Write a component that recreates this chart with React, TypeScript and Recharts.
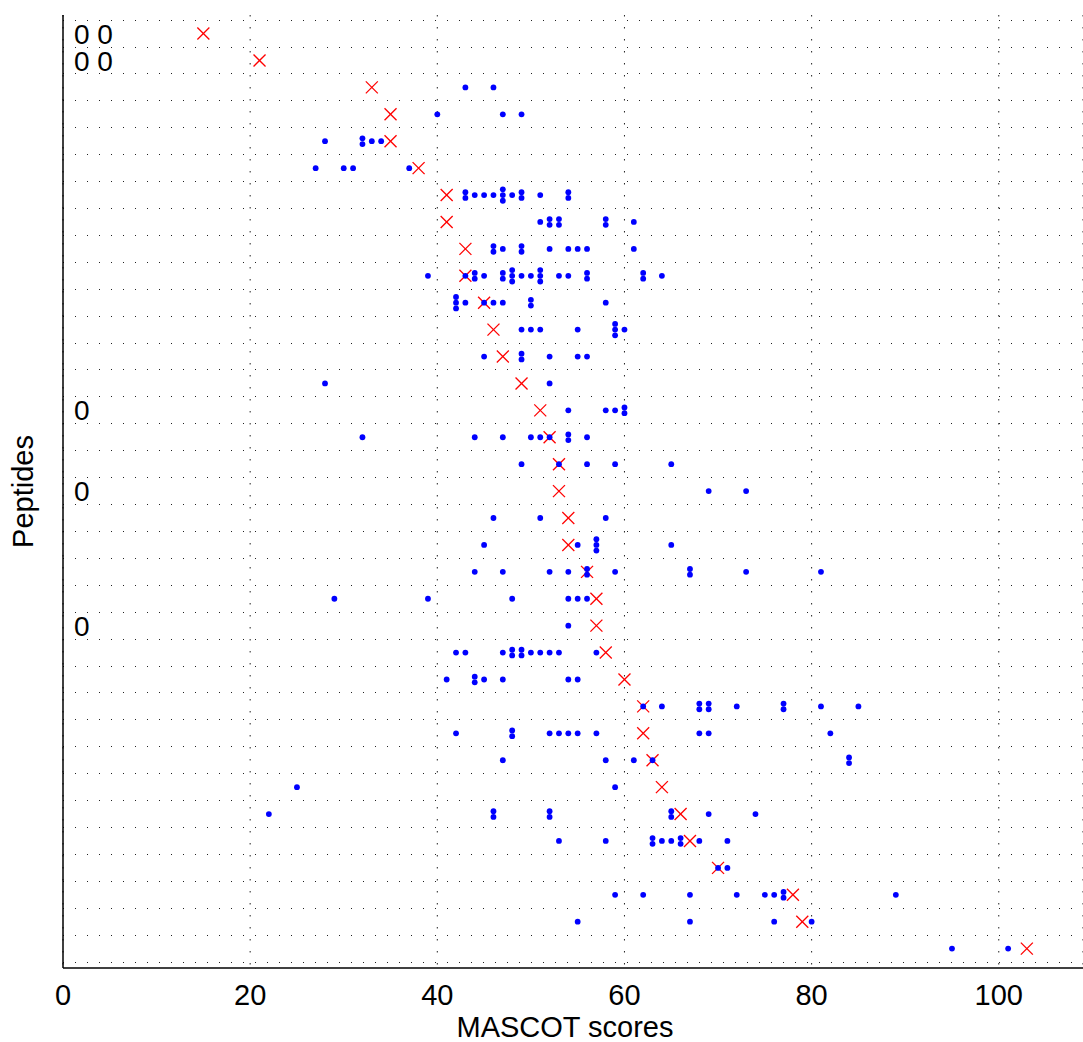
import React from 'react';
import { ScatterChart, Scatter, XAxis, YAxis, ReferenceLine, CartesianGrid } from 'recharts';

// One entry per peptide row (top to bottom): the red cross score
const cutoffScores = [
  15, 21, 33, 35, 35, 38, 41, 41, 43, 43, 45, 46, 47, 49, 51, 52, 53, 53,
  54, 54, 56, 57, 57, 58, 60, 62, 62, 63, 64, 66, 67, 70, 78, 79, 103,
];

// Blue dots per row; repeated values are drawn stacked
const hitScores: number[][] = [
  [],
  [],
  [43, 46],
  [40, 47, 49],
  [28, 32, 32, 33, 34],
  [27, 30, 31, 37],
  [43, 43, 44, 45, 46, 47, 47, 47, 48, 49, 49, 51, 54, 54],
  [51, 52, 52, 53, 53, 58, 58, 61],
  [46, 46, 47, 49, 49, 52, 54, 55, 56, 61],
  [39, 43, 44, 44, 45, 47, 47, 48, 48, 48, 49, 50, 51, 51, 51, 53, 54, 56, 56, 62, 62, 64],
  [42, 42, 42, 43, 45, 46, 47, 50, 50, 58],
  [49, 50, 51, 55, 59, 59, 59, 60],
  [45, 49, 49, 52, 55, 56],
  [28, 52],
  [54, 58, 59, 60, 60],
  [32, 44, 47, 50, 51, 52, 54, 54, 56],
  [49, 53, 56, 59, 65],
  [69, 73],
  [46, 51, 58],
  [45, 55, 57, 57, 57, 65],
  [44, 47, 52, 54, 56, 56, 59, 67, 67, 73, 81],
  [29, 39, 48, 54, 55, 56],
  [54],
  [42, 43, 47, 48, 48, 49, 49, 50, 51, 52, 53, 57],
  [41, 44, 44, 45, 47, 54, 55],
  [62, 64, 68, 68, 69, 69, 72, 77, 77, 81, 85],
  [42, 48, 48, 52, 53, 54, 55, 57, 68, 69, 82],
  [47, 58, 61, 63, 84, 84],
  [25, 59],
  [22, 46, 46, 52, 52, 65, 65, 69, 74],
  [53, 58, 63, 63, 64, 65, 66, 66, 68, 71],
  [70, 71],
  [59, 62, 67, 72, 75, 76, 77, 77, 89],
  [55, 67, 76, 80],
  [95, 101],
];

const zeroLabelRows = [1, 2, 15, 18, 23];
const zeroLabelTexts = ['0 0', '0 0', '0', '0', '0'];

const scoreTicks = [0, 20, 40, 60, 80, 100];
const rowCount = cutoffScores.length;

const FONT = 'Liberation Sans, Arial, Helvetica, sans-serif';

const cutoffData = cutoffScores.map((score, i) => ({ score, row: i + 1 }));

const hitData = hitScores.flatMap((scores, i) => {
  const counts = new Map<number, number>();
  scores.forEach(s => counts.set(s, (counts.get(s) || 0) + 1));
  return [...counts].map(([score, n]) => ({ score, row: i + 1, n }));
});

const zeroLabelData = zeroLabelRows.map((row, i) => ({ score: 0, row, text: zeroLabelTexts[i] }));

// grid lines sit between rows
const rowBoundaries = Array.from({ length: rowCount + 1 }, (_, i) => i + 0.5);

const gridStyle = { stroke: '#222', strokeWidth: 1, strokeDasharray: '1.2 10.8', shapeRendering: 'crispEdges' as const };

const Cross = (props: any) => {
  const { cx, cy } = props;
  const s = 6;
  return (
    <g stroke="#ff0000" strokeWidth={1.3}>
      <line x1={cx - s} y1={cy - s} x2={cx + s} y2={cy + s} />
      <line x1={cx - s} y1={cy + s} x2={cx + s} y2={cy - s} />
    </g>
  );
};

const StackedDots = (props: any) => {
  const { cx, cy, payload } = props;
  const n = payload?.n ?? 1;
  return (
    <g fill="#0000ff">
      {Array.from({ length: n }, (_, i) => (
        <circle key={i} cx={cx} cy={cy + (i - (n - 1) / 2) * 5.7} r={2.9} />
      ))}
    </g>
  );
};

const ZeroText = (props: any) => {
  const { cx, cy, payload } = props;
  return (
    <text x={cx + 11} y={cy} dy="0.36em" fontSize={28} fontFamily={FONT} fill="#000" style={{ whiteSpace: 'pre' }}>
      {payload.text}
    </text>
  );
};

const YTitle = (props: any) => {
  const { x, y, height } = props.viewBox;
  const cx = x + 33;
  const cy = y + height / 2;
  return (
    <text x={cx} y={cy} transform={`rotate(-90 ${cx} ${cy})`} textAnchor="middle" fontSize={29} fontFamily={FONT} fill="#000">
      Peptides
    </text>
  );
};

const XTitle = (props: any) => {
  const { x, y, height } = props.viewBox;
  return (
    <text x={x + 502} y={y + height - 5} textAnchor="middle" fontSize={29} fontFamily={FONT} fill="#000">
      MASCOT scores
    </text>
  );
};

export default function App() {
  return (
    <div style={{ position: 'absolute', left: 0, top: 0, background: '#fff', fontFamily: FONT }}>
      <ScatterChart width={1083} height={1042} margin={{ top: 15, right: 0, bottom: 0, left: 0 }}>
        <CartesianGrid horizontal={false} stroke="#222" strokeDasharray="1.5 10.5" />
        <XAxis
          type="number"
          dataKey="score"
          domain={[0, 109]}
          ticks={scoreTicks}
          allowDataOverflow
          height={74}
          tickLine={false}
          tickSize={0}
          tickMargin={16}
          tick={{ fill: '#000', fontSize: 29, fontFamily: FONT }}
          axisLine={{ stroke: '#000', strokeWidth: 1.5 }}
          label={(p: any) => <XTitle {...p} />}
        />
        <YAxis
          type="number"
          dataKey="row"
          reversed
          domain={[0.31, rowCount + 0.72]}
          ticks={rowBoundaries}
          allowDataOverflow
          width={63}
          tick={false}
          tickLine={false}
          axisLine={{ stroke: '#000', strokeWidth: 1.5 }}
          label={(p: any) => <YTitle {...p} />}
        />
        {rowBoundaries.map(v => (
          <ReferenceLine key={`h${v}`} y={v} {...gridStyle} />
        ))}
        <Scatter data={zeroLabelData} shape={(p: any) => <ZeroText {...p} />} isAnimationActive={false} />
        <Scatter data={cutoffData} shape={(p: any) => <Cross {...p} />} isAnimationActive={false} />
        <Scatter data={hitData} shape={(p: any) => <StackedDots {...p} />} isAnimationActive={false} />
      </ScatterChart>
    </div>
  );
}
